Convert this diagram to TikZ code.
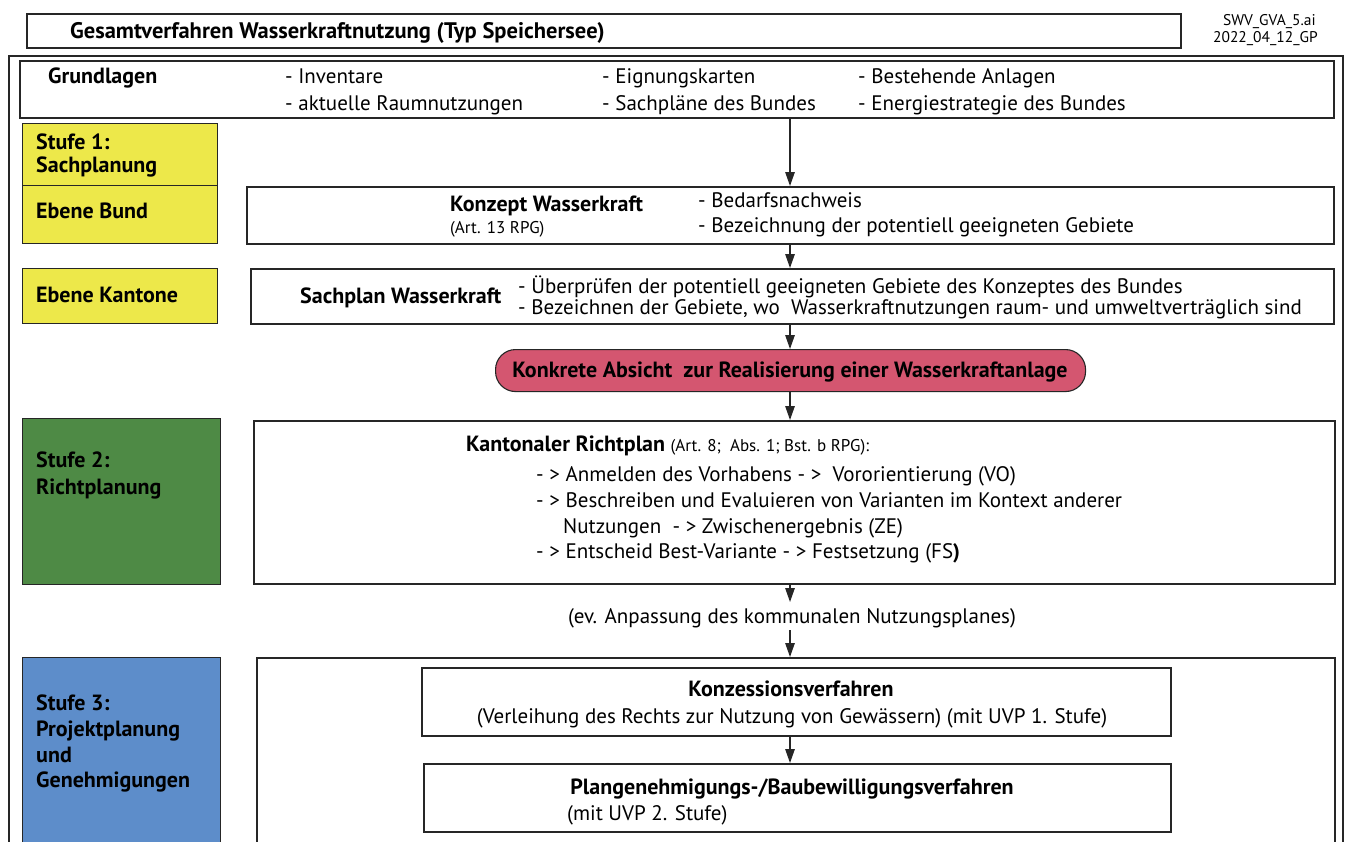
\documentclass[tikz,border=0pt]{standalone}
\usepackage{fontspec}
\setmainfont{PT Sans}
\usetikzlibrary{arrows.meta,calc}
\definecolor{gelb}{HTML}{EDE84A}
\definecolor{gruen}{HTML}{4E8A45}
\definecolor{blau}{HTML}{5D8DCA}
\definecolor{rot}{HTML}{D45670}
\definecolor{linie}{HTML}{262626}
\begin{document}
\begin{tikzpicture}[x=1pt,y=-1pt,
  box/.style={draw=linie, line width=1.5pt, inner sep=0pt, anchor=north west},
  stufe/.style={draw=linie, line width=1pt, inner sep=0pt, anchor=north west},
  txt/.style={anchor=base west, inner sep=0pt, font=\fontsize{21}{24}\selectfont},
  btxt/.style={anchor=base west, inner sep=0pt, font=\fontsize{22}{24}\selectfont\bfseries},
  ctxt/.style={anchor=base, inner sep=0pt, font=\fontsize{21}{24}\selectfont},
  cbtxt/.style={anchor=base, inner sep=0pt, font=\fontsize{22}{24}\selectfont\bfseries},
  small/.style={anchor=base west, inner sep=0pt, font=\fontsize{17}{19}\selectfont},
  meta/.style={anchor=base east, inner sep=0pt, font=\fontsize{15.5}{17}\selectfont},
  arr/.style={draw=linie, line width=1.3pt, -{Triangle[length=14pt,width=9.5pt]}}]
\useasboundingbox (0,0) rectangle (1346,841);
\clip (0,0) rectangle (1346,841);
\fill[white] (0,0) rectangle (1346,841);
\coordinate (ax) at (790,0);

% title
\node[box, minimum width=1154pt, minimum height=34pt] (titel) at (26,13) {};
\node[btxt, font=\fontsize{22.5}{24}\selectfont\bfseries] (titeltxt) at (70,38.5) {Gesamtverfahren Wasserkraftnutzung (Typ Speichersee)};
\node[meta] (datei) at (1316,25) {SWV\_GVA\_5.ai};
\node[meta] (datum) at (1318,42) {2022\_04\_12\_GP};

% outer frame
\node[box, minimum width=1334pt, minimum height=820pt] (rahmen) at (8,55) {};

% Grundlagen
\node[box, minimum width=1314pt, minimum height=57pt] (grund) at (19,60) {};
\node[btxt] (grundtxt) at (48,83.5) {Grundlagen};
\node[txt] (g1) at (285,83.5) {- Inventare};
\node[txt] (g2) at (285,110.5) {- aktuelle Raumnutzungen};
\node[txt] (g3) at (602,83.5) {- Eignungskarten};
\node[txt] (g4) at (602,110.5) {- Sachpläne des Bundes};
\node[txt] (g5) at (858,83.5) {- Bestehende Anlagen};
\node[txt] (g6) at (858,110.5) {- Energiestrategie des Bundes};

% Stufe 1
\node[stufe, fill=gelb, minimum width=195pt, minimum height=120pt] (s1) at (22,123) {};
\draw[draw=linie, line width=1pt] (s1.west |- 0,185) coordinate (s1l) -- (s1.east |- 0,185) coordinate (s1r);
\node[btxt] (s1a) at (36,149.5) {Stufe 1:};
\node[btxt] (s1b) at (36,172.5) {Sachplanung};
\node[btxt] (bund) at (36,218.5) {Ebene Bund};

\node[box, minimum width=1087pt, minimum height=57pt] (konzept) at (246,186) {};
\node[btxt] (konzepttxt) at (450,211.5) {Konzept Wasserkraft};
\node[small] (art13) at (450,233) {(Art. 13 RPG)};
\node[txt] (k1) at (698,207) {- Bedarfsnachweis};
\node[txt] (k2) at (698,232) {- Bezeichnung der potentiell geeigneten Gebiete};

\node[stufe, fill=gelb, minimum width=195pt, minimum height=55pt] (kantone) at (22,268) {};
\node[btxt] (kantonetxt) at (36,302.5) {Ebene Kantone};

\node[box, minimum width=1083pt, minimum height=55pt] (sachplan) at (250,268) {};
\node[btxt] (sachplantxt) at (300,303.5) {Sachplan Wasserkraft};
\node[txt] (sp1) at (518,293.5) {- Überprüfen der potentiell geeigneten Gebiete des Konzeptes des Bundes};
\node[txt] (sp2) at (518,314.5) {- Bezeichnen der Gebiete, wo \ Wasserkraftnutzungen raum- und umweltverträglich sind};

% red
\node[box, line width=1.1pt, fill=rot, rounded corners=20pt, minimum width=590pt, minimum height=42pt] (absicht) at (495,349) {};
\node[cbtxt] (absichttxt) at (790,377.5) {Konkrete Absicht \ zur Realisierung einer Wasserkraftanlage};

% Stufe 2
\node[stufe, fill=gruen, minimum width=198pt, minimum height=166pt] (s2) at (22,418) {};
\node[btxt] (s2a) at (36,467.5) {Stufe 2:};
\node[btxt] (s2b) at (36,494.5) {Richtplanung};

\node[box, minimum width=1081pt, minimum height=163pt] (richtplan) at (253,420) {};
\node[anchor=base west, inner sep=0pt] (rptxt) at (466,451.5) {\fontsize{22}{24}\selectfont\bfseries Kantonaler Richtplan \fontsize{17}{19}\mdseries\selectfont(Art. 8; \ Abs. 1; Bst. b RPG):};
\node[txt] (r1) at (536,481) {- > Anmelden des Vorhabens - > \ Vororientierung (VO)};
\node[txt] (r2) at (536,507) {- > Beschreiben und Evaluieren von Varianten im Kontext anderer};
\node[txt] (r3) at (563,533) {Nutzungen \ - > Zwischenergebnis (ZE)};
\node[txt] (r4) at (536,558) {- > Entscheid Best-Variante - > Festsetzung (FS\textbf{)}};

\node[ctxt] (ev) at (792,623) {(ev. Anpassung des kommunalen Nutzungsplanes)};
\coordinate (evtop) at (790,602);
\coordinate (evbot) at (790,630);

% Stufe 3
\node[stufe, fill=blau, minimum width=198pt, minimum height=200pt] (s3) at (22,657) {};
\node[btxt] (s3a) at (36,710.5) {Stufe 3:};
\node[btxt] (s3b) at (36,736.5) {Projektplanung};
\node[btxt] (s3c) at (36,762.5) {und};
\node[btxt] (s3d) at (36,787.5) {Genehmigungen};

\node[box, minimum width=1078pt, minimum height=200pt] (stufe3) at (256,657) {};
\node[box, minimum width=749pt, minimum height=68pt] (konz) at (421,667) {};
\node[cbtxt] (konztxt) at (791,696.5) {Konzessionsverfahren};
\node[ctxt] (konz2) at (792,723) {(Verleihung des Rechts zur Nutzung von Gewässern) (mit UVP 1. Stufe)};
\node[box, minimum width=747pt, minimum height=68pt] (plan) at (423,763) {};
\node[cbtxt] (plantxt) at (792,794.5) {Plangenehmigungs-/Baubewilligungsverfahren};
\node[txt] (plan2) at (567,820) {(mit UVP 2. Stufe)};

% arrows
\draw[arr] (grund.south -| ax) -- (konzept.north -| ax);
\draw[arr] (konzept.south -| ax) -- (sachplan.north -| ax);
\draw[arr] (sachplan.south -| ax) -- (absicht.north -| ax);
\draw[arr] (absicht.south -| ax) -- (richtplan.north -| ax);
\draw[arr] (richtplan.south -| ax) -- (evtop);
\draw[arr] (evbot) -- (stufe3.north -| ax);
\draw[arr] (konz.south -| ax) -- (plan.north -| ax);
\end{tikzpicture}
\end{document}
